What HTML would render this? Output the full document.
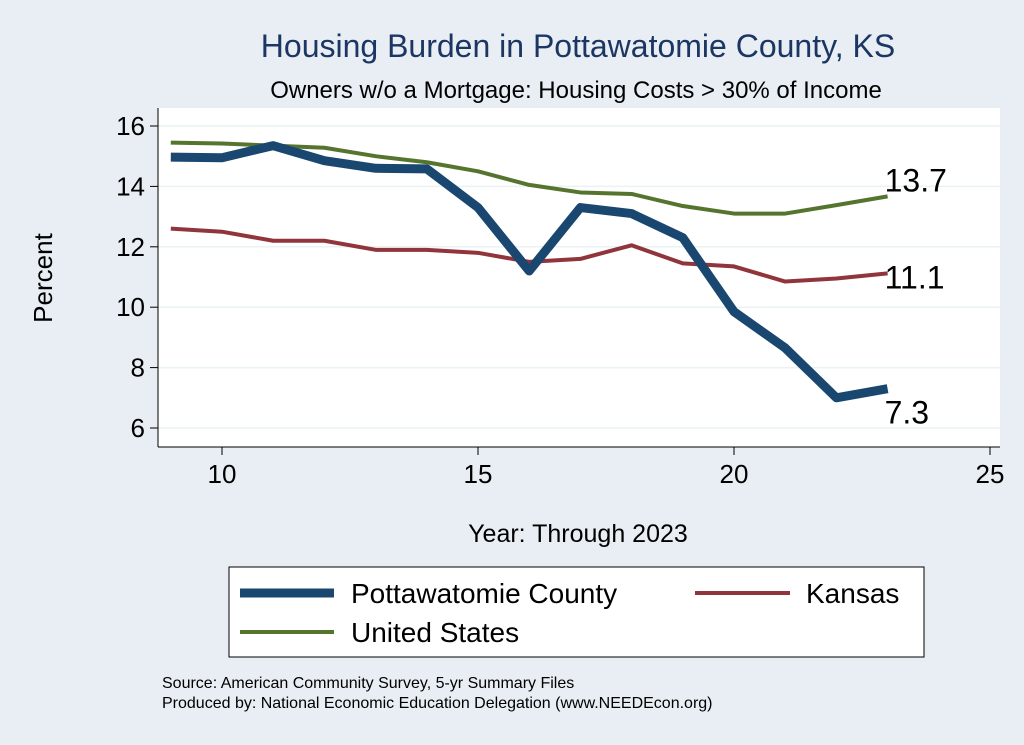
<!DOCTYPE html>
<html><head><meta charset="utf-8"><style>
body{margin:0;background:#e8eef3;}
svg{display:block;font-family:"Liberation Sans",Arial,sans-serif;}
</style></head><body>
<svg id="chart" width="1024" height="745">
<rect x="0" y="0" width="1024" height="745" fill="#e8eef3"/>
<text x="578" y="57" font-size="32" fill="#1c3664" text-anchor="middle">Housing Burden in Pottawatomie County, KS</text>
<text x="576" y="98" font-size="24" fill="#000" text-anchor="middle">Owners w/o a Mortgage: Housing Costs &gt; 30% of Income</text>
<rect x="158" y="108" width="842" height="339" fill="#fff"/>
<g id="grid"></g>
<g id="axes"></g>
<g id="series"></g>
<text x="52" y="278" font-size="26" text-anchor="middle" transform="rotate(-90 52 278)">Percent</text>
<text x="578" y="542" font-size="25" text-anchor="middle">Year: Through 2023</text>
<g>
<rect x="229" y="567" width="695" height="90" fill="#fff" stroke="#000" stroke-width="1"/>
<line x1="240" y1="593" x2="334" y2="593" stroke="#1a476f" stroke-width="9"/>
<text x="351" y="603" font-size="28">Pottawatomie County</text>
<line x1="695" y1="593" x2="790" y2="593" stroke="#90353b" stroke-width="4"/>
<text x="806" y="603" font-size="28">Kansas</text>
<line x1="240" y1="632" x2="334" y2="632" stroke="#55752f" stroke-width="4"/>
<text x="351" y="642" font-size="28">United States</text>
</g>
<text x="162" y="688" font-size="16">Source: American Community Survey, 5-yr Summary Files</text>
<text x="162" y="708" font-size="16">Produced by: National Economic Education Delegation (www.NEEDEcon.org)</text>
</svg>
<script>
const years=[9,10,11,12,13,14,15,16,17,18,19,20,21,22,23];
const pottawatomie=[14.97,14.95,15.35,14.85,14.6,14.58,13.3,11.2,13.3,13.1,12.3,9.85,8.65,7.0,7.3];
const kansas=[12.6,12.5,12.2,12.2,11.9,11.9,11.8,11.5,11.6,12.05,11.45,11.35,10.85,10.95,11.12];
const unitedStates=[15.45,15.42,15.35,15.28,15.0,14.8,14.5,14.05,13.8,13.75,13.35,13.1,13.1,13.38,13.67];
const xTicks=[10,15,20,25];
const yTicks=[6,8,10,12,14,16];
const NS='http://www.w3.org/2000/svg';
function xs(v){return 222+(v-10)*51.2;}
function ys(v){return 428-(v-6)*30.2;}
function mk(tag,attrs,parent,text){const e=document.createElementNS(NS,tag);for(const k in attrs)e.setAttribute(k,attrs[k]);if(text!==undefined)e.textContent=text;parent.appendChild(e);return e;}
const grid=document.getElementById('grid'),axes=document.getElementById('axes'),ser=document.getElementById('series');
yTicks.forEach(t=>{
 const g=mk('line',{x1:158,x2:1000,y1:ys(t),y2:ys(t),stroke:'#eaf2f3','stroke-width':1.5},grid);
 
 
 const tk=mk('line',{x1:150,x2:158,y1:ys(t),y2:ys(t),stroke:'#000','stroke-width':1},axes);
 
 
 const lb=mk('text',{x:145,y:ys(t)+9,'font-size':26,'text-anchor':'end'},axes,String(t));
 
 
});
xTicks.forEach(t=>{
 const tk=mk('line',{x1:xs(t),x2:xs(t),y1:447,y2:455,stroke:'#000','stroke-width':1},axes);
 
 
 const lb=mk('text',{x:xs(t),y:483,'font-size':26,'text-anchor':'middle'},axes,String(t));
 
 
});
const ya=mk('line',{x1:158,x2:158,y1:108,y2:447,stroke:'#000','stroke-width':1},axes);


const xa=mk('line',{x1:158,x2:1000,y1:447,y2:447,stroke:'#000','stroke-width':1},axes);


function line(vals,color,w,name){
 const p=mk('polyline',{points:vals.map((v,i)=>xs(years[i])+','+ys(v)).join(' '),fill:'none',stroke:color,'stroke-width':w,'stroke-linejoin':'round'},ser);
 
 
}
line(unitedStates,'#55752f',4,'line-united-states');
line(kansas,'#90353b',4,'line-kansas');
line(pottawatomie,'#1a476f',9,'line-pottawatomie');
const n=years.length-1;
function endLabel(v,dy,name){
 const t=mk('text',{x:xs(years[n])+-3,y:ys(v)+dy,'font-size':32},ser,v.toFixed(1));
 
 
}
endLabel(unitedStates[n],-5,'label-united-states-end');
endLabel(kansas[n],15,'label-kansas-end');
endLabel(pottawatomie[n],35,'label-pottawatomie-end');
</script>
</body></html>
